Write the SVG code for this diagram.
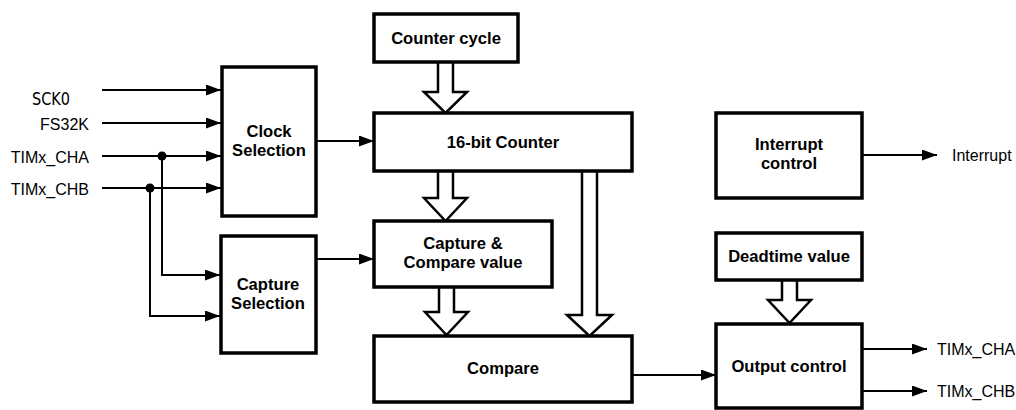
<svg xmlns="http://www.w3.org/2000/svg" width="1016" height="410" viewBox="0 0 1016 410">
<defs>
<marker id="ah" markerWidth="16" markerHeight="12" refX="15" refY="5.5" orient="auto" markerUnits="userSpaceOnUse">
<path d="M0,0 L15,5.5 L0,11 Z" fill="#000"/>
</marker>
<style>
.box{fill:#fff;stroke:#000;stroke-width:3.5}
.bl{font-family:"Liberation Sans",Arial,sans-serif;font-size:16.6px;font-weight:bold;text-anchor:middle;fill:#000}
.lbl{font-family:"Liberation Sans",Arial,sans-serif;font-size:16px;fill:#000}
.ln{fill:none;stroke:#000;stroke-width:2}
.hol{fill:#fff;stroke:#000;stroke-width:2.5;stroke-linejoin:miter}
</style>
</defs>
<rect width="1016" height="410" fill="#fff"/>

<g id="connectors">
<line class="ln" x1="102" y1="90" x2="221" y2="90" marker-end="url(#ah)"/>
<line class="ln" x1="102" y1="123" x2="221" y2="123" marker-end="url(#ah)"/>
<line class="ln" x1="102" y1="156" x2="221" y2="156" marker-end="url(#ah)"/>
<line class="ln" x1="102" y1="188" x2="221" y2="188" marker-end="url(#ah)"/>
<circle cx="162" cy="156" r="4.5" fill="#000"/>
<circle cx="150" cy="188" r="4.5" fill="#000"/>
<polyline class="ln" points="162,156 162,275 220,275" marker-end="url(#ah)"/>
<polyline class="ln" points="150,188 150,316 220,316" marker-end="url(#ah)"/>
<line class="ln" x1="316" y1="141" x2="374" y2="141" marker-end="url(#ah)"/>
<line class="ln" x1="316" y1="259" x2="374" y2="259" marker-end="url(#ah)"/>
<line class="ln" x1="632" y1="375" x2="716" y2="375" marker-end="url(#ah)"/>
<line class="ln" x1="862" y1="155" x2="937" y2="155" marker-end="url(#ah)"/>
<line class="ln" x1="862" y1="349" x2="927" y2="349" marker-end="url(#ah)"/>
<line class="ln" x1="862" y1="391" x2="927" y2="391" marker-end="url(#ah)"/>
<path class="hol" d="M438,62 L438,92 L424,92 L445.5,113 L467,92 L453,92 L453,62"/>
<path class="hol" d="M438,171 L438,198 L424,198 L445.5,221 L467,198 L453,198 L453,171"/>
<path class="hol" d="M439,287 L439,312 L425,312 L446.5,335 L468,312 L454,312 L454,287"/>
<path class="hol" d="M582,171 L582,315 L567,315 L589.5,336 L612,315 L597,315 L597,171"/>
<path class="hol" d="M782,280 L782,300 L768,300 L789.5,323 L811,300 L797,300 L797,280"/>
</g>

<g id="labels">
<text class="lbl" x="32" y="105" style="font-family:'Liberation Sans Narrow','DejaVu Sans Condensed',sans-serif;font-size:17px" textLength="38" lengthAdjust="spacingAndGlyphs">SCK0</text>
<text class="lbl" x="89" y="130" text-anchor="end">FS32K</text>
<text class="lbl" x="89" y="163" text-anchor="end">TIMx_CHA</text>
<text class="lbl" x="89" y="195" text-anchor="end">TIMx_CHB</text>
<text class="lbl" x="952" y="161">Interrupt</text>
<text class="lbl" x="937" y="355">TIMx_CHA</text>
<text class="lbl" x="937" y="397">TIMx_CHB</text>
</g>

<g id="counter-cycle">
<rect class="box" x="374" y="14" width="144" height="48"/>
<text class="bl" x="446" y="44">Counter cycle</text>
</g>
<g id="counter16">
<rect class="box" x="374" y="113" width="258" height="58"/>
<text class="bl" x="503" y="148">16-bit Counter</text>
</g>
<g id="clock-selection">
<rect class="box" x="222" y="67" width="94" height="149"/>
<text class="bl" x="269" y="137">Clock</text>
<text class="bl" x="269" y="156">Selection</text>
</g>
<g id="capture-selection">
<rect class="box" x="221" y="236" width="95" height="117"/>
<text class="bl" x="268" y="290">Capture</text>
<text class="bl" x="268" y="309">Selection</text>
</g>
<g id="capture-compare">
<rect class="box" x="374" y="221" width="178" height="66"/>
<text class="bl" x="463" y="249">Capture &amp;</text>
<text class="bl" x="463" y="268">Compare value</text>
</g>
<g id="compare">
<rect class="box" x="374" y="336" width="258" height="66"/>
<text class="bl" x="503" y="374">Compare</text>
</g>
<g id="interrupt-control">
<rect class="box" x="716" y="113" width="146" height="85"/>
<text class="bl" x="789" y="150">Interrupt</text>
<text class="bl" x="789" y="169">control</text>
</g>
<g id="deadtime">
<rect class="box" x="716" y="233" width="146" height="47"/>
<text class="bl" x="789" y="262">Deadtime value</text>
</g>
<g id="output-control">
<rect class="box" x="716" y="324" width="146" height="84"/>
<text class="bl" x="789" y="372">Output control</text>
</g>
</svg>
